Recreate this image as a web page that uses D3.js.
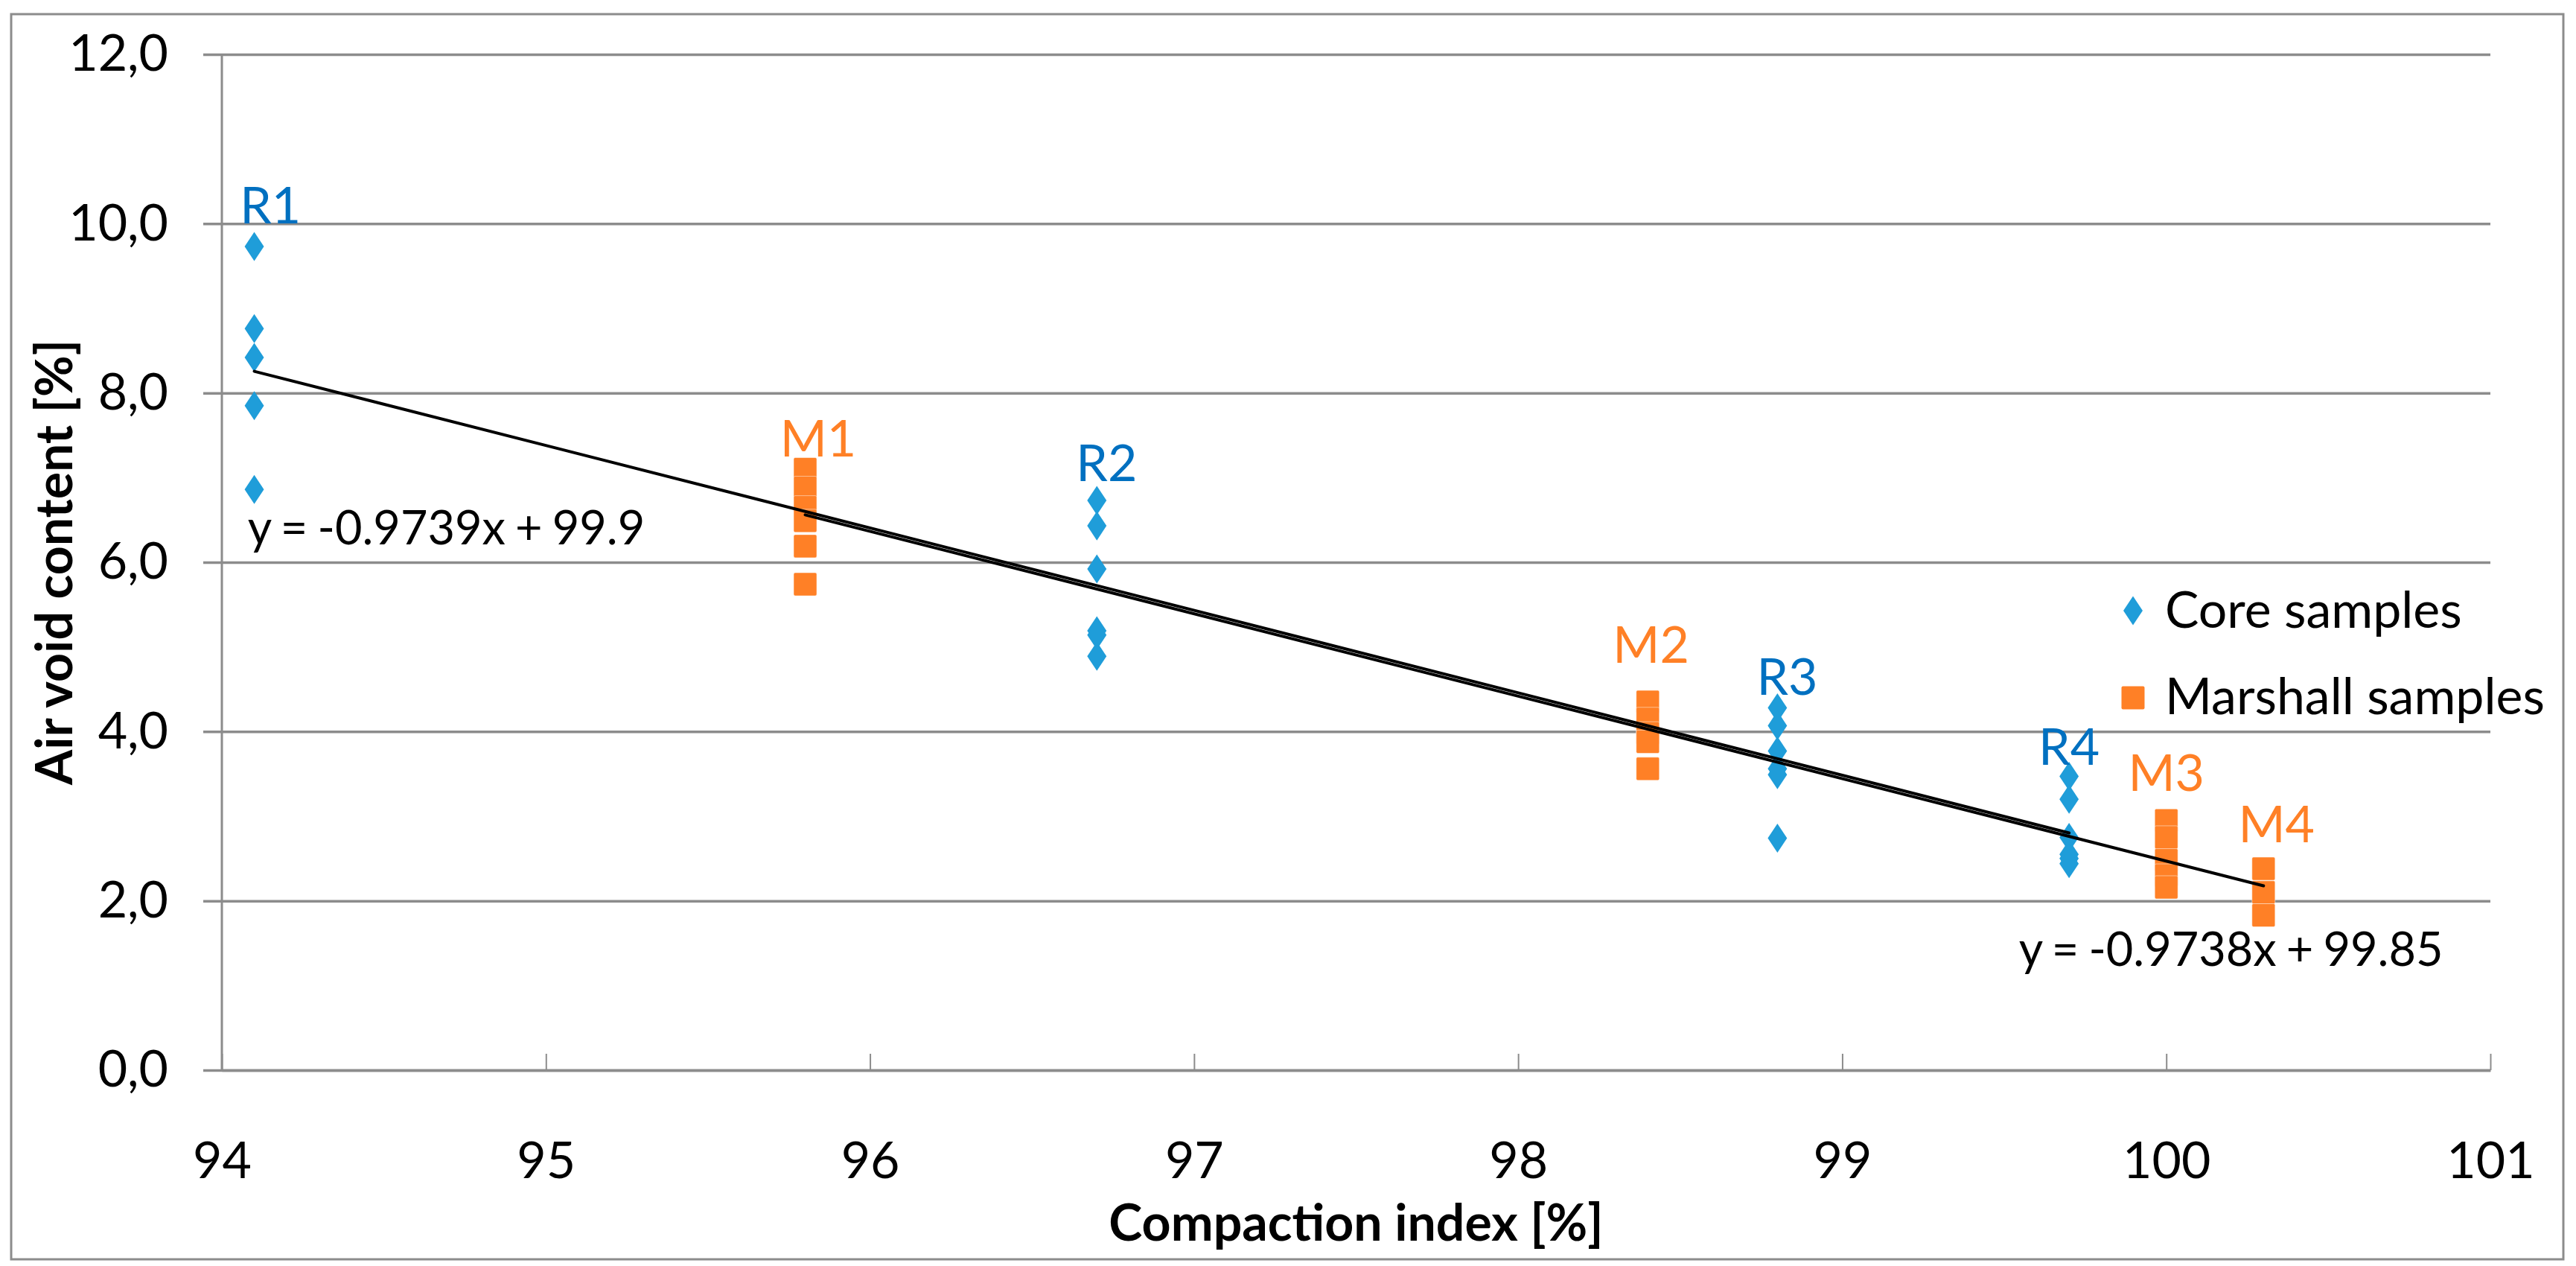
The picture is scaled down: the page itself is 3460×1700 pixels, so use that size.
<!DOCTYPE html>
<html lang="en">
<head>
<meta charset="utf-8">
<title>Air void content vs compaction index</title>
<script src="https://cdn.jsdelivr.net/npm/d3@7"></script>
<style>
  body { margin: 0; background: #fff; }
  svg text { font-family: Lato, "Open Sans", sans-serif; }
</style>
</head>
<body>
<div id="main"></div>
<script>
// core samples (blue diamonds), grouped by compaction index
var coreX = [94.1, 96.7, 98.8, 99.7];
var coreY = [
  [9.73, 8.76, 8.42, 7.85, 6.86],
  [6.73, 6.43, 5.92, 5.19, 5.14, 4.89],
  [4.28, 4.07, 3.77, 3.56, 3.49, 2.74],
  [3.47, 3.20, 2.75, 2.55, 2.50, 2.44]
];
var coreNames = ["R1", "R2", "R3", "R4"];
var coreLabelX = [94.15, 96.73, 98.83, 99.70];
var coreLabelY = [10.0, 6.96, 4.43, 3.61];

// marshall samples (orange squares)
var marshallX = [95.8, 98.4, 100.0, 100.3];
var marshallY = [
  [7.10, 6.88, 6.65, 6.49, 6.19, 5.74],
  [4.35, 4.15, 3.98, 3.88, 3.56],
  [2.95, 2.75, 2.48, 2.30, 2.16],
  [2.38, 2.10, 1.83]
];
var marshallNames = ["M1", "M2", "M3", "M4"];
var marshallLabelX = [95.84, 98.41, 100.0, 100.34];
var marshallLabelY = [7.25, 4.81, 3.30, 2.69];

// linear trendlines: slope, intercept, x range, label
var trendSlope = [-0.9739, -0.9738];
var trendIntercept = [99.9, 99.85];
var trendFrom = [94.1, 95.8];
var trendTo = [99.7, 100.3];
var trendText = ["y = -0.9739x + 99.9", "y = -0.9738x + 99.85"];
var trendTextX = [94.08, 99.545];
var trendTextY = [6.21, 1.23];

var xTicks = [94, 95, 96, 97, 98, 99, 100, 101];
var yTicks = [0, 2, 4, 6, 8, 10, 12];
var seriesNames = ["Core samples", "Marshall samples"];

var W = 3460, H = 1700;
var plotLeft = 298, plotRight = 3345, plotTop = 73, plotBottom = 1437;
var blue = "#1f9dd9", orange = "#ff8026", labelBlue = "#0070c0";
var grid = "#8c8c8c";

var svg = d3.select("#main").append("svg")
  .attr("width", W).attr("height", H);

svg.append("rect")
  .attr("x", 15).attr("y", 19)
  .attr("width", 3428).attr("height", 1672)
  .attr("fill", "#fff").attr("stroke", grid).attr("stroke-width", 3);

var x = d3.scaleLinear().domain([94, 101]).range([plotLeft, plotRight]);
var y = d3.scaleLinear().domain([0, 12]).range([plotBottom, plotTop]);

var comma = d3.formatLocale({decimal: ",", thousands: ".", grouping: [3], currency: ["", ""]}).format(".1f");

// horizontal gridlines with y tick labels
var yAxis = svg.append("g")
  .attr("transform", "translate(" + plotLeft + ",0)")
  .call(d3.axisLeft(y).tickValues(yTicks).tickFormat(comma)
    .tickSize(-(plotRight - plotLeft)).tickSizeOuter(0));
yAxis.select(".domain").remove();
yAxis.selectAll(".tick line")
  .attr("x1", -25)
  .attr("stroke", grid).attr("stroke-width", 3.5);
yAxis.selectAll(".tick text")
  .attr("x", -72)
  .attr("font-size", 68).attr("fill", "#000");

svg.append("line")
  .attr("x1", plotLeft).attr("x2", plotLeft)
  .attr("y1", plotTop).attr("y2", plotBottom)
  .attr("stroke", grid).attr("stroke-width", 3);

// x axis with small upward ticks
var xAxis = svg.append("g")
  .attr("transform", "translate(0," + plotBottom + ")")
  .call(d3.axisBottom(x).tickValues(xTicks).tickFormat(d3.format("d"))
    .tickSize(-22).tickSizeOuter(0));
xAxis.select(".domain").attr("stroke", grid).attr("stroke-width", 3.5);
xAxis.selectAll(".tick line").attr("stroke", grid).attr("stroke-width", 2);
xAxis.selectAll(".tick text")
  .attr("y", 145).attr("dy", 0)
  .attr("font-size", 68).attr("fill", "#000");

// markers
var diamond = d3.symbol().type(d3.symbolDiamond).size(440);

coreX.forEach(function(cx, i) {
  svg.append("g").selectAll("path")
    .data(coreY[i])
    .enter()
    .append("path")
    .attr("d", diamond)
    .attr("transform", function(d) {
      return "translate(" + x(cx) + "," + y(d) + ") scale(1.15,1)";
    })
    .attr("fill", blue);
});

marshallX.forEach(function(mx, i) {
  svg.append("g").selectAll("rect")
    .data(marshallY[i])
    .enter()
    .append("rect")
    .attr("x", x(mx) - 15.5)
    .attr("y", function(d) { return y(d) - 15.5; })
    .attr("width", 31).attr("height", 31)
    .attr("rx", 2)
    .attr("fill", orange)
    .attr("stroke", "#fff").attr("stroke-width", 0.8).attr("stroke-opacity", 0.6);
});

// group labels
svg.append("g").selectAll("text")
  .data(coreNames)
  .enter()
  .append("text")
  .attr("x", function(d, i) { return x(coreLabelX[i]); })
  .attr("y", function(d, i) { return y(coreLabelY[i]); })
  .attr("text-anchor", "middle")
  .attr("font-size", 68)
  .attr("fill", labelBlue)
  .text(function(d) { return d; });

svg.append("g").selectAll("text")
  .data(marshallNames)
  .enter()
  .append("text")
  .attr("x", function(d, i) { return x(marshallLabelX[i]); })
  .attr("y", function(d, i) { return y(marshallLabelY[i]); })
  .attr("text-anchor", "middle")
  .attr("font-size", 68)
  .attr("fill", orange)
  .text(function(d) { return d; });

// trendlines
trendSlope.forEach(function(m, i) {
  var b = trendIntercept[i];
  svg.append("line")
    .attr("x1", x(trendFrom[i])).attr("y1", y(m * trendFrom[i] + b))
    .attr("x2", x(trendTo[i])).attr("y2", y(m * trendTo[i] + b))
    .attr("stroke", "#000").attr("stroke-width", 4)
    .attr("stroke-linecap", "round");
  svg.append("text")
    .attr("x", x(trendTextX[i])).attr("y", y(trendTextY[i]))
    .attr("font-size", 63).attr("fill", "#000")
    .attr("word-spacing", -3)
    .text(trendText[i]);
});

// legend
var legend = svg.append("g").attr("transform", "translate(2865,820)");
legend.append("path")
  .attr("d", diamond)
  .attr("transform", "scale(1.15,1)")
  .attr("fill", blue);
legend.append("rect")
  .attr("x", -15.5).attr("y", 101.5)
  .attr("width", 31).attr("height", 31).attr("rx", 2)
  .attr("fill", orange);
legend.selectAll("text.leg")
  .data(seriesNames)
  .enter()
  .append("text")
  .attr("class", "leg")
  .attr("x", 43)
  .attr("y", function(d, i) { return 23 + i * 116; })
  .attr("font-size", 68).attr("fill", "#000")
  .text(function(d) { return d; });

// axis titles
svg.append("text")
  .attr("x", (plotLeft + plotRight) / 2).attr("y", 1666)
  .attr("text-anchor", "middle")
  .attr("font-size", 68).attr("font-weight", "bold")
  .text("Compaction index [%]");

svg.append("text")
  .attr("transform", "translate(97," + (plotTop + plotBottom) / 2 + ") rotate(-90)")
  .attr("text-anchor", "middle")
  .attr("font-size", 68).attr("font-weight", "bold")
  .text("Air void content [%]");
</script>
</body>
</html>
